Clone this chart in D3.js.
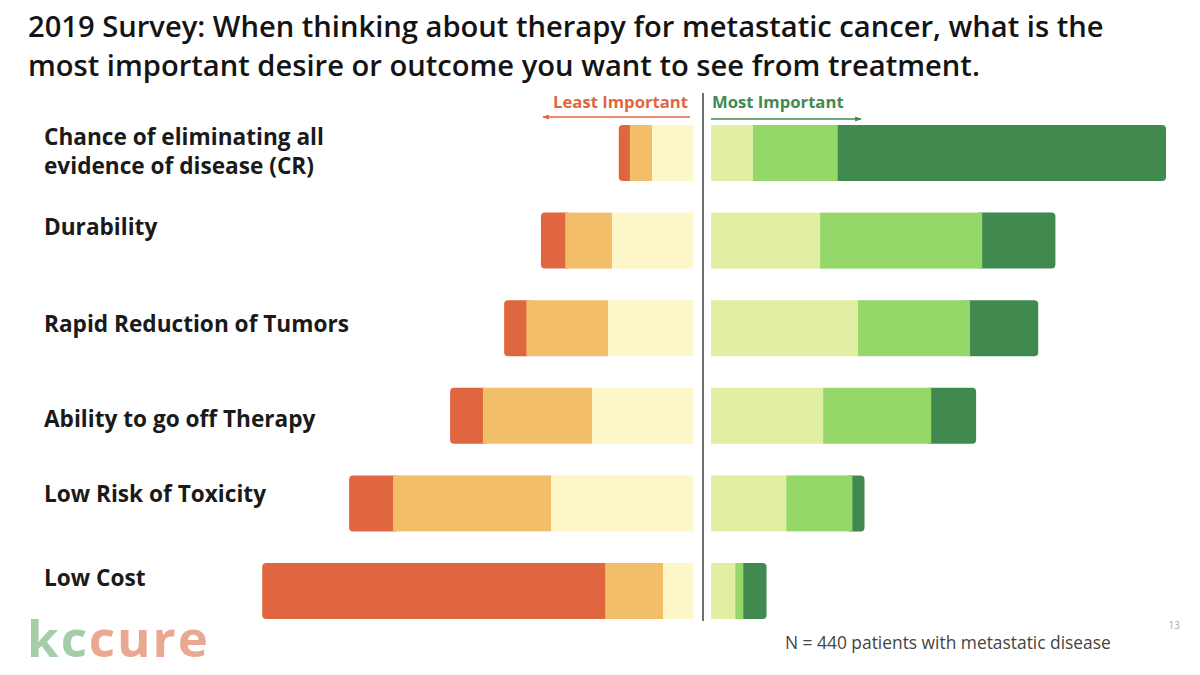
<!doctype html>
<html lang="en">
<head>
<meta charset="utf-8">
<script src="https://d3js.org/d3.v7.min.js"></script>
<title>2019 Survey - therapy outcomes</title>
<style>
  body { margin: 0; background: #fff; }
  svg { display: block; font-family: "Open Sans", "DejaVu Sans", sans-serif; }
  .title { font-size: 27px; font-weight: 600; fill: #141414; }
  .rowLabel { font-size: 20px; font-weight: 700; fill: #1a1a1a; }
  .hdr { font-size: 15px; font-weight: 700; }
  .note { font-size: 16px; fill: #444; }
</style>
</head>
<body>
<div id="chart"></div>
<script>
// outcomes, top to bottom
var outcomes = [
  ['Chance of eliminating all', 'evidence of disease (CR)'],
  ['Durability'],
  ['Rapid Reduction of Tumors'],
  ['Ability to go off Therapy'],
  ['Low Risk of Toxicity'],
  ['Low Cost']
];

// % of respondents, least important side (outermost -> centre)
var least1 = [2.2, 4.8, 4.4, 6.5, 8.7, 67.9];
var least2 = [4.4, 9.3, 16.2, 21.6, 31.3, 11.5];
var least3 = [8.1, 16.0, 16.8, 20.0, 28.1, 5.9];
// most important side (centre -> outermost)
var most3 = [8.3, 21.6, 29.1, 22.2, 14.9, 4.8];
var most2 = [16.8, 32.1, 22.2, 21.4, 13.1, 1.6];
var most1 = [65.0, 14.5, 13.5, 8.9, 2.4, 4.6];

var leftColors = ['#e0663f', '#f2be69', '#fcf6c8'];
var rightColors = ['#e1efa5', '#95d769', '#418a4f'];

const W = 1200, H = 675;
const leftZero = 693, rightZero = 711, divX = 703;
const labelDy = [20, 22, 32, 39, 27, 23];
const tuck = 6; // outer rounded piece slides this far under its neighbour

const svg = d3.select('#chart').append('svg').attr('width', W).attr('height', H);

// font size that makes a text span the given width
function fit(sel, target) {
  const node = sel.node();
  const fs = parseFloat(getComputedStyle(node).fontSize);
  const w = node.getComputedTextLength();
  return fs * target / w;
}

// title
const titleLines = ['2019 Survey: When thinking about therapy for metastatic cancer, what is the',
                    'most important desire or outcome you want to see from treatment.'];
const titles = svg.selectAll('.title').data(titleLines).enter().append('text')
  .attr('class', 'title').attr('x', 28).attr('y', (d, i) => 37 + i * 39).text(d => d);
titles.style('font-size', fit(titles.filter((d, i) => i === 0), 1076) + 'px');

const x = d3.scaleLinear().domain([0, 100]).range([0, 505]);
const y = d3.scaleBand().domain(d3.range(outcomes.length)).range([125, 619]).paddingInner(0.3607).paddingOuter(0);

const rows = outcomes.map((o, i) => ({
  i: i,
  left: [least1[i], least2[i], least3[i]],
  right: [most3[i], most2[i], most1[i]]
}));

const g = svg.selectAll('.row').data(rows).enter().append('g').attr('class', 'row');

// left: rounded outermost piece, square inner pieces on top
g.append('rect')
  .attr('x', d => leftZero - x(d3.sum(d.left)))
  .attr('y', d => y(d.i))
  .attr('width', d => x(d.left[0]) + tuck)
  .attr('height', y.bandwidth())
  .attr('rx', 4)
  .attr('fill', leftColors[0]);
[1, 2].forEach(k => {
  g.append('rect')
    .attr('x', d => leftZero - x(d3.sum(d.left.slice(k))))
    .attr('y', d => y(d.i))
    .attr('width', d => x(d.left[k]))
    .attr('height', y.bandwidth())
    .attr('fill', leftColors[k]);
});

// right: rounded outermost piece, square inner pieces on top
g.append('rect')
  .attr('x', d => rightZero + x(d.right[0] + d.right[1]) - tuck)
  .attr('y', d => y(d.i))
  .attr('width', d => x(d.right[2]) + tuck)
  .attr('height', y.bandwidth())
  .attr('rx', 4)
  .attr('fill', rightColors[2]);
[0, 1].forEach(k => {
  g.append('rect')
    .attr('x', d => rightZero + x(d3.sum(d.right.slice(0, k))))
    .attr('y', d => y(d.i))
    .attr('width', d => x(d.right[k]))
    .attr('height', y.bandwidth())
    .attr('fill', rightColors[k]);
});

// row labels
const labels = g.append('text')
  .attr('class', 'rowLabel')
  .attr('x', 44)
  .attr('y', d => y(d.i) + labelDy[d.i]);
labels.selectAll('tspan')
  .data(d => outcomes[d.i])
  .enter().append('tspan')
  .attr('x', 44)
  .attr('dy', (d, j) => j === 0 ? 0 : 29)
  .text(d => d);
const firstSpan = labels.filter(d => d.i === 0).select('tspan');
labels.style('font-size', fit(firstSpan, 280) + 'px');

// divider
svg.append('line')
  .attr('x1', divX).attr('x2', divX).attr('y1', 93).attr('y2', 621)
  .attr('stroke', '#707070').attr('stroke-width', 2);

// header labels + arrows
const hL = svg.append('text').attr('class', 'hdr').attr('x', 688).attr('y', 108)
  .attr('text-anchor', 'end').attr('fill', '#e0663f').text('Least Important');
const hR = svg.append('text').attr('class', 'hdr').attr('x', 712).attr('y', 108)
  .attr('fill', '#418a4f').text('Most Important');
const hfs = fit(hL, 135);
hL.style('font-size', hfs + 'px');
hR.style('font-size', hfs + 'px');

const defs = svg.append('defs');
[['arrR', '#e0663f'], ['arrG', '#418a4f']].forEach(a => {
  defs.append('marker').attr('id', a[0]).attr('viewBox', '0 0 10 10')
    .attr('refX', 9).attr('refY', 5).attr('markerWidth', 5).attr('markerHeight', 5)
    .attr('orient', 'auto')
    .append('path').attr('d', 'M0,1 L10,5 L0,9 Z').attr('fill', a[1]);
});
svg.append('line').attr('x1', 690).attr('x2', 543).attr('y1', 117).attr('y2', 117)
  .attr('stroke', '#e0663f').attr('stroke-width', 1.3).attr('marker-end', 'url(#arrR)');
svg.append('line').attr('x1', 711).attr('x2', 861).attr('y1', 119).attr('y2', 119)
  .attr('stroke', '#418a4f').attr('stroke-width', 1.3).attr('marker-end', 'url(#arrG)');

// footnote, page number
const note = svg.append('text').attr('class', 'note').attr('x', 785).attr('y', 649)
  .text('N = 440 patients with metastatic disease');
note.style('font-size', fit(note, 326) + 'px');
svg.append('text').attr('x', 1180).attr('y', 629).attr('text-anchor', 'end')
  .style('font-size', '10px').attr('fill', '#aaa').text('13');

// logo
const logo = svg.append('text').attr('x', 27).attr('y', 657)
  .style('font-family', '"Open Sans", Lato, sans-serif')
  .style('font-size', '51px').style('font-weight', 700).style('letter-spacing', '2px');
logo.append('tspan').attr('fill', '#a5cda8').text('kc');
logo.append('tspan').attr('fill', '#eaa892').text('cure');
</script>
</body>
</html>
